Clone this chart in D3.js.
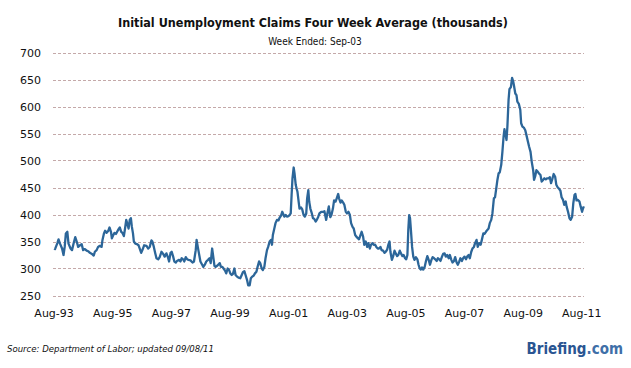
<!DOCTYPE html>
<html>
<head>
<meta charset="utf-8">
<script src="https://cdn.jsdelivr.net/npm/d3@7"></script>
<style>
  body { margin: 0; background: #fff; }
  text { font-family: "DejaVu Sans", Verdana, sans-serif; }
</style>
</head>
<body>
<script>
var w = 631;
var h = 368;

// week ended, as decimal years
var weeks = [
  1993.60,1993.63,1993.71,1993.75,1993.80,1993.87,1993.92,1993.96,1994.00,1994.05,1994.09,1994.16,1994.21,1994.28,1994.32,1994.37,1994.42,1994.48,1994.54,1994.59,
  1994.65,1994.71,1994.76,1994.82,1994.89,1994.95,1994.99,1995.05,1995.10,1995.16,1995.22,1995.25,1995.30,1995.34,1995.39,1995.45,1995.49,1995.54,1995.57,1995.62,
  1995.66,1995.71,1995.75,1995.80,1995.84,1995.89,1995.93,1995.98,1996.02,1996.06,1996.09,1996.14,1996.18,1996.22,1996.25,1996.29,1996.32,1996.37,1996.43,1996.48,
  1996.52,1996.57,1996.61,1996.67,1996.75,1996.81,1996.86,1996.92,1996.95,1997.00,1997.05,1997.09,1997.15,1997.20,1997.26,1997.32,1997.37,1997.43,1997.48,1997.52,
  1997.57,1997.61,1997.66,1997.70,1997.75,1997.79,1997.86,1997.91,1997.95,1998.00,1998.04,1998.09,1998.14,1998.18,1998.25,1998.32,1998.37,1998.43,1998.46,1998.50,
  1998.54,1998.59,1998.65,1998.69,1998.74,1998.79,1998.85,1998.90,1998.94,1998.99,1999.02,1999.07,1999.11,1999.16,1999.20,1999.25,1999.29,1999.34,1999.38,1999.43,
  1999.47,1999.52,1999.57,1999.61,1999.66,1999.70,1999.75,1999.79,1999.84,1999.89,1999.95,2000.00,2000.04,2000.09,2000.13,2000.18,2000.22,2000.27,2000.31,2000.36,
  2000.41,2000.45,2000.50,2000.54,2000.59,2000.63,2000.68,2000.72,2000.77,2000.81,2000.86,2000.90,2000.95,2001.00,2001.03,2001.06,2001.11,2001.15,2001.20,2001.25,
  2001.29,2001.34,2001.38,2001.42,2001.45,2001.50,2001.54,2001.59,2001.63,2001.67,2001.70,2001.73,2001.77,2001.80,2001.84,2001.87,2001.90,2001.94,2001.97,2002.02,
  2002.06,2002.11,2002.15,2002.20,2002.23,2002.27,2002.30,2002.34,2002.38,2002.43,2002.47,2002.52,2002.56,2002.61,2002.65,2002.71,2002.77,2002.82,2002.88,2002.92,
  2002.97,2003.02,2003.06,2003.11,2003.15,2003.20,2003.24,2003.29,2003.32,2003.37,2003.41,2003.46,2003.50,2003.55,2003.59,2003.64,2003.69,2003.73,2003.78,2003.82,
  2003.87,2003.91,2003.96,2004.00,2004.05,2004.09,2004.14,2004.18,2004.23,2004.28,2004.32,2004.37,2004.41,2004.46,2004.50,2004.55,2004.59,2004.64,2004.68,2004.73,
  2004.77,2004.82,2004.87,2004.91,2004.96,2005.00,2005.04,2005.07,2005.12,2005.16,2005.21,2005.25,2005.30,2005.34,2005.39,2005.43,2005.48,2005.52,2005.57,2005.61,
  2005.65,2005.68,2005.71,2005.74,2005.77,2005.81,2005.85,2005.89,2005.94,2005.99,2006.03,2006.07,2006.11,2006.15,2006.19,2006.24,2006.28,2006.33,2006.37,2006.42,
  2006.47,2006.51,2006.56,2006.60,2006.65,2006.69,2006.74,2006.78,2006.83,2006.87,2006.92,2006.96,2007.01,2007.06,2007.10,2007.15,2007.19,2007.24,2007.28,2007.33,
  2007.37,2007.42,2007.46,2007.51,2007.55,2007.60,2007.65,2007.69,2007.74,2007.78,2007.83,2007.87,2007.92,2007.96,2008.01,2008.05,2008.10,2008.15,2008.19,2008.24,
  2008.28,2008.33,2008.37,2008.42,2008.46,2008.51,2008.55,2008.60,2008.64,2008.68,2008.72,2008.76,2008.80,2008.85,2008.89,2008.93,2008.96,2009.00,2009.03,2009.06,
  2009.10,2009.13,2009.18,2009.22,2009.26,2009.29,2009.33,2009.37,2009.40,2009.45,2009.50,2009.53,2009.57,2009.62,2009.67,2009.71,2009.76,2009.80,2009.85,2009.89,
  2009.94,2009.97,2010.01,2010.05,2010.10,2010.14,2010.19,2010.23,2010.28,2010.32,2010.37,2010.41,2010.46,2010.51,2010.55,2010.60,2010.64,2010.69,2010.73,2010.78,
  2010.82,2010.87,2010.91,2010.96,2011.00,2011.05,2011.08,2011.13,2011.18,2011.22,2011.27,2011.31,2011.35,2011.38,2011.42,2011.47,2011.52,2011.56,2011.61,2011.64,
  2011.67
];

// four week average, thousands
var claims = [
  337,336,347,354,346,337,325,340,365,368,346,337,334,350,358,350,340,343,345,334,
  336,333,332,329,327,324,331,334,340,342,340,353,365,370,366,370,376,368,356,362,
  366,364,368,373,376,368,366,360,374,390,384,374,390,393,378,365,350,346,345,343,
  337,329,334,343,342,337,340,352,350,340,328,319,317,321,331,327,322,328,321,313,
  329,331,322,313,311,314,316,313,319,317,313,321,317,316,315,311,313,334,353,340,
  328,313,307,303,307,313,316,319,310,337,325,305,303,305,307,310,303,303,300,296,
  291,300,297,291,288,290,300,288,285,283,282,288,293,295,288,279,269,269,282,285,
  287,291,294,303,313,310,300,297,303,319,334,340,350,353,344,362,374,384,390,389,
  394,398,405,400,396,399,396,397,399,402,436,467,487,476,455,448,442,424,411,413,
  410,399,396,402,430,445,424,411,404,393,392,387,390,396,402,405,405,406,390,402,
  415,395,399,411,426,424,430,438,430,422,426,422,418,405,402,405,399,384,377,374,
  362,359,356,354,362,368,359,344,350,340,347,337,344,347,344,344,340,337,337,340,
  334,333,329,331,335,344,350,331,316,322,333,328,323,325,333,328,323,325,319,317,
  325,371,399,393,371,340,322,316,321,317,307,300,298,302,298,303,313,323,317,307,
  316,321,319,317,314,319,317,314,322,327,328,322,325,319,325,316,311,314,321,311,
  307,313,319,314,319,322,317,322,325,319,331,337,340,347,353,340,347,344,353,365,
  364,368,371,374,384,390,402,430,432,448,464,476,478,492,516,544,558,547,538,563,
  612,632,636,653,646,637,624,621,609,605,594,569,563,561,556,547,535,526,516,498,
  482,464,471,482,479,476,473,461,464,467,465,467,467,469,458,467,475,470,455,450,
  448,444,432,427,418,424,415,405,393,390,396,421,436,438,426,427,424,415,405,411,
  415
];

var yTicks = [250, 300, 350, 400, 450, 500, 550, 600, 650, 700];
var xTickYears = [1993, 1995, 1997, 1999, 2001, 2003, 2005, 2007, 2009, 2011];

function toDate(yr) {
  var y = Math.floor(yr);
  var start = new Date(y, 0, 1);
  var end = new Date(y + 1, 0, 1);
  return new Date(start.getTime() + (yr - y) * (end - start));
}

var data = weeks.map(function(d, i) { return { date: toDate(d), value: claims[i] }; });

var svg = d3.select("body")
            .append("svg")
              .attr("width", w)
              .attr("height", h);

var x = d3.scaleTime()
          .domain([toDate(1993.595), toDate(2011.675)])
          .range([54, 584]);

var y = d3.scaleLinear()
          .domain([250, 700])
          .range([295.5, 52.5]);

var cond = "'DejaVu Sans Condensed', 'DejaVu Sans', sans-serif";

// title
svg.append("text")
    .attr("x", 313)
    .attr("y", 27)
    .attr("text-anchor", "middle")
    .style("font-family", cond)
    .style("font-size", "12.5px")
    .style("font-weight", "bold")
    .style("fill", "#111")
    .text("Initial Unemployment Claims Four Week Average (thousands)");

svg.append("text")
    .attr("x", 315)
    .attr("y", 45)
    .attr("text-anchor", "middle")
    .style("font-family", cond)
    .style("font-size", "10px")
    .style("fill", "#111")
    .text("Week Ended:  Sep-03");

// grid
svg.append("g")
    .selectAll("line")
    .data(yTicks)
    .enter()
    .append("line")
      .attr("x1", 53)
      .attr("x2", 584)
      .attr("y1", function(d) { return Math.round(y(d)) + 0.5; })
      .attr("y2", function(d) { return Math.round(y(d)) + 0.5; })
      .style("stroke", "#c4a9a9")
      .style("stroke-dasharray", "3,2");

var yAxis = d3.axisLeft(y)
              .tickValues(yTicks)
              .tickSize(0)
              .tickPadding(0);

svg.append("g")
    .attr("transform", "translate(41,0)")
    .call(yAxis)
    .call(function(g) { g.select(".domain").remove(); })
    .selectAll("text")
      .style("font-size", "11px")
      .style("font-family", "'DejaVu Sans', Verdana, sans-serif")
      .style("fill", "#111");

var fmt = d3.timeFormat("%b-%y");
var xAxis = d3.axisBottom(x)
              .tickValues(xTickYears.map(function(d) { return new Date(d, 7, 1); }))
              .tickFormat(fmt)
              .tickSize(0)
              .tickPadding(0);

svg.append("g")
    .attr("transform", "translate(0,309)")
    .call(xAxis)
    .call(function(g) { g.select(".domain").remove(); })
    .selectAll("text")
      .style("font-size", "11px")
      .style("font-family", "'DejaVu Sans', Verdana, sans-serif")
      .style("fill", "#111");

var line = d3.line()
             .x(function(d) { return x(d.date); })
             .y(function(d) { return y(d.value); });

svg.append("path")
    .datum(data)
    .attr("d", line)
    .style("fill", "none")
    .style("stroke", "#2c6699")
    .style("stroke-width", 2.3)
    .style("stroke-linejoin", "round");

// footer
svg.append("text")
    .attr("x", 7)
    .attr("y", 352)
    .style("font-family", cond)
    .style("font-size", "9.5px")
    .style("font-style", "italic")
    .style("fill", "#111")
    .text("Source: Department of Labor; updated 09/08/11");

var logo = svg.append("text")
    .attr("x", 623)
    .attr("y", 354)
    .attr("text-anchor", "end")
    .style("font-family", cond)
    .style("font-size", "15px")
    .style("font-weight", "bold")
    .style("fill", "#2a5592");
logo.append("tspan").text("Briefing");
logo.append("tspan").style("fill", "#3f6fa8").text(".com");
</script>
</body>
</html>
